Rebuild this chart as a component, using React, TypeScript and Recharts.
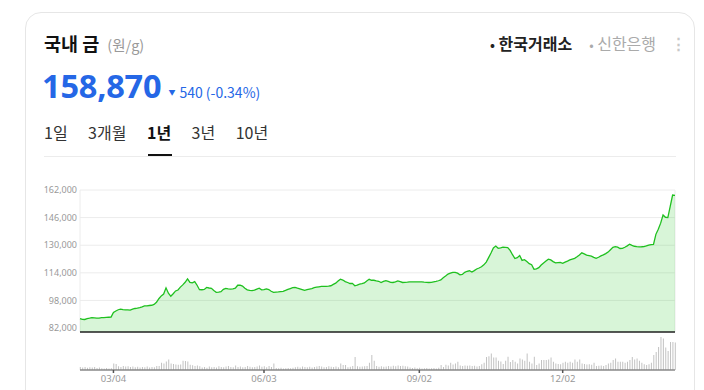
import React from 'react';
import { AreaChart, Area, BarChart, Bar, XAxis, YAxis, CartesianGrid } from 'recharts';

// 국내 금 시세 (원/g), 1년 일별 종가
const prices = [
  87490, 87000, 86950, 87400, 87700, 88060, 87900, 87750, 87700, 88060,
  88000, 88150, 88240, 88300, 91000, 91900, 92600, 92940, 92700, 92570,
  92500, 92380, 92900, 93320, 93500, 93880, 94300, 94800, 94900, 95050,
  95200, 95700, 96900, 99000, 100600, 101700, 105300, 102200, 100400, 101900,
  103500, 104040, 105700, 107000, 108500, 110500, 108400, 108200, 108900, 106800,
  104220, 104200, 104400, 105540, 105200, 104980, 103700, 102720, 102850, 103100,
  104400, 104980, 104700, 104600, 104700, 105100, 106800, 106800, 106300, 105000,
  104100, 103800, 103660, 104000, 104600, 105100, 104100, 104200, 104700, 104300,
  103300, 102720, 102850, 102910, 103100, 103280, 103800, 104400, 104900, 105400,
  105600, 105100, 104700, 104300, 103850, 104200, 104550, 104900, 105400, 105700,
  105900, 106100, 106150, 106200, 106250, 106500, 107300, 108000, 109200, 110300,
  109800, 108900, 108400, 107800, 107900, 106480, 106900, 107400, 107700, 108100,
  109300, 110240, 109700, 109680, 109300, 109100, 108400, 109000, 109490, 109000,
  108500, 108400, 108800, 109300, 108900, 108400, 108450, 108550, 108700, 108740,
  108700, 108750, 108740, 108740, 108600, 108500, 108380, 108500, 108800, 109000,
  109400, 109900, 111100, 112100, 113300, 113800, 114300, 114200, 113800, 112800,
  113100, 114300, 114900, 115200, 114500, 115300, 116200, 116800, 117500, 118600,
  120200, 122800, 125500, 128400, 129500, 128200, 128500, 128850, 128750, 128660,
  127000, 124500, 122300, 122800, 124000, 121200, 121600, 120500, 119300, 118700,
  116100, 116300, 117000, 118500, 119700, 120800, 121900, 121500, 120500, 119750,
  119900, 120000, 119500, 120200, 120800, 121450, 121900, 122380, 123300, 124300,
  125600, 125000, 124250, 124000, 123700, 123000, 122400, 123000, 123800, 124400,
  125100, 126000, 127400, 128800, 129200, 128900, 128100, 128200, 128800, 129600,
  130570, 129900, 129400, 129200, 129050, 129100, 129200, 129600, 130100, 130300,
  130500, 136300, 139200, 142800, 147500, 146200, 146000, 152500, 159100, 158870,
];

// 거래량 (kg)
const volumes = [
  30, 25, 30, 22, 28, 25, 30, 20, 25, 18,
  15, 20, 15, 18, 66, 60, 38, 30, 40, 35,
  38, 30, 35, 28, 32, 25, 30, 28, 35, 25,
  30, 28, 40, 40, 72, 65, 85, 105, 65, 60,
  55, 52, 55, 92, 90, 85, 52, 48, 40, 45,
  38, 25, 30, 22, 35, 28, 30, 25, 38, 30,
  28, 35, 40, 30, 28, 45, 30, 35, 28, 30,
  40, 32, 28, 30, 35, 45, 32, 38, 28, 40,
  30, 66, 20, 18, 22, 15, 18, 20, 17, 22,
  28, 32, 25, 35, 30, 28, 32, 25, 30, 35,
  40, 35, 28, 30, 38, 32, 30, 35, 28, 66,
  50, 50, 28, 32, 40, 130, 38, 32, 35, 38,
  40, 72, 150, 92, 40, 32, 38, 32, 35, 40,
  35, 42, 38, 45, 40, 42, 38, 35, 25, 20,
  25, 18, 22, 15, 18, 20, 15, 18, 20, 16,
  22, 50, 30, 52, 45, 72, 55, 65, 82, 45,
  40, 45, 42, 45, 40, 42, 35, 40, 58, 72,
  130, 138, 165, 125, 125, 92, 85, 60, 92, 132,
  80, 100, 82, 66, 115, 105, 92, 165, 82, 66,
  132, 50, 66, 100, 100, 100, 105, 125, 82, 66,
  60, 58, 72, 82, 72, 82, 72, 105, 82, 105,
  66, 60, 55, 58, 52, 72, 40, 42, 46, 40,
  50, 66, 72, 100, 115, 82, 82, 82, 72, 82,
  100, 130, 105, 115, 92, 72, 58, 50, 58, 72,
  150, 180, 230, 330, 316, 225, 190, 280, 280, 275,
];

const tickIndex = [14, 77, 142, 202];
const tickLabels = ['03/04', '06/03', '09/02', '12/02'];
const priceTicks = [82000, 98000, 114000, 130000, 146000, 162000];
const tabs = ['1일', '3개월', '1년', '3년', '10년'];

const rows = prices.map((p, i) => ({ i, price: p, volume: volumes[i] }));

const KR = '"Noto Sans CJK KR", "Noto Sans", sans-serif';
const BLUE = '#2567e6';

export default function App() {
  return (
    <div style={{ position: 'absolute', left: 0, top: 0, width: 704, height: 390, overflow: 'hidden', background: '#fff', fontFamily: KR }}>
      <div style={{ position: 'absolute', left: 25, top: 12, width: 670, height: 420, border: '1px solid #e6e6e6', borderRadius: 16, boxSizing: 'border-box' }} />

      {/* header */}
      <div style={{ position: 'absolute', left: 44, top: 30, lineHeight: '26px', whiteSpace: 'nowrap' }}>
        <span style={{ fontSize: 18.5, fontWeight: 700, color: '#111' }}>국내 금</span>
        <span style={{ fontSize: 14.5, color: '#999', marginLeft: 8 }}>(원/g)</span>
      </div>
      <div style={{ position: 'absolute', left: 490, top: 30, lineHeight: '26px', whiteSpace: 'nowrap', fontSize: 16 }}>
        <span style={{ color: '#222', fontWeight: 700 }}><span style={{ fontSize: 13 }}>•</span> 한국거래소</span>
        <span style={{ color: '#aaa', marginLeft: 17 }}><span style={{ fontSize: 13 }}>•</span> 신한은행</span>
      </div>
      <div style={{ position: 'absolute', left: 671, top: 30, lineHeight: '26px', fontSize: 15, color: '#c8c8c8', fontWeight: 700 }}>⋮</div>

      <div style={{ position: 'absolute', left: 42, top: 66, lineHeight: '40px', whiteSpace: 'nowrap', color: BLUE }}>
        <span style={{ fontSize: 32.5, fontWeight: 700, fontFamily: '"Noto Sans", sans-serif', letterSpacing: -0.2 }}>158,870</span>
        <span style={{ fontSize: 7, marginLeft: 7, position: 'relative', top: -3 }}>▼</span>
        <span style={{ fontSize: 14, marginLeft: 4 }}>540 (-0.34%)</span>
      </div>

      <div style={{ position: 'absolute', left: 44, top: 119, display: 'flex', gap: 20.5, lineHeight: '26px', fontSize: 16, color: '#333', whiteSpace: 'nowrap' }}>
        {tabs.map((t) => (
          <span key={t} style={{ fontWeight: t === '1년' ? 700 : 400, color: t === '1년' ? '#111' : '#333' }}>{t}</span>
        ))}
      </div>
      <div style={{ position: 'absolute', left: 44, top: 156, width: 632, height: 1, background: '#ececec' }} />
      <div style={{ position: 'absolute', left: 148, top: 154, width: 24, height: 2, background: '#111' }} />

      {/* price */}
      <div style={{ position: 'absolute', left: 0, top: 180 }}>
        <AreaChart width={704} height={154} data={rows} margin={{ top: 10, right: 29, bottom: 0, left: 44 }}>
          <CartesianGrid stroke="#ececec" strokeWidth={1} />
          <XAxis
            dataKey="i"
            type="number"
            domain={[0, prices.length - 1]}
            ticks={tickIndex}
            tick={false}
            tickLine={false}
            height={2}
            axisLine={{ stroke: '#222', strokeWidth: 1.6 }}
          />
          <YAxis
            type="number"
            domain={[79700, 162000]}
            ticks={priceTicks}
            width={36}
            axisLine={false}
            tickLine={false}
            tickSize={0}
            tickMargin={3}
            tickFormatter={(v: number) => v.toLocaleString('en-US')}
            tick={{ fontSize: 9, fill: '#999', fontFamily: '"Noto Sans", sans-serif' }}
          />
          <Area
            type="linear"
            dataKey="price"
            stroke="#1fc01f"
            strokeWidth={1.3}
            fill="#28c828"
            fillOpacity={0.18}
            dot={false}
            activeDot={false}
            isAnimationActive={false}
          />
        </AreaChart>
      </div>

      {/* volume */}
      <div style={{ position: 'absolute', left: 0, top: 330 }}>
        <BarChart width={704} height={60} data={rows} margin={{ top: 6, right: 29, bottom: 0, left: 80 }}>
          <XAxis
            dataKey="i"
            type="number"
            domain={[0, prices.length - 1]}
            ticks={tickIndex}
            tickFormatter={(v: number) => tickLabels[tickIndex.indexOf(v)]}
            height={20}
            axisLine={{ stroke: '#888', strokeWidth: 1.5 }}
            tickLine={{ stroke: '#555', strokeWidth: 1.5 }}
            tickSize={3}
            tickMargin={2}
            tick={{ fontSize: 9.5, fill: '#999', fontFamily: '"Noto Sans", sans-serif' }}
          />
          <YAxis hide domain={[0, 340]} />
          <Bar dataKey="volume" fill="#c2c2c2" barSize={1} isAnimationActive={false} />
        </BarChart>
      </div>
    </div>
  );
}
